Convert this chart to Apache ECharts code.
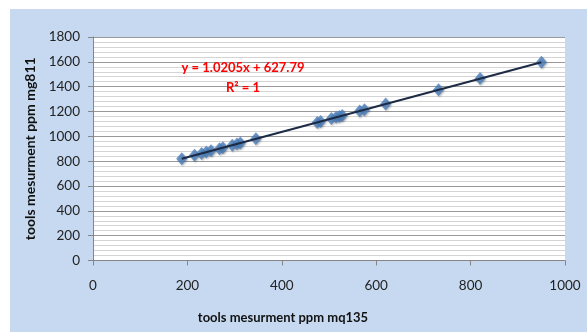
<!DOCTYPE html>
<html>
<head>
<meta charset="utf-8">
<script src="https://cdn.jsdelivr.net/npm/echarts@6/dist/echarts.min.js"></script>
<style>
  html, body { margin: 0; padding: 0; background: #ffffff; }
  #panel { position: absolute; left: 10px; top: 9px; width: 577px; height: 323px; background: #c6d9f1; }
  #chart { position: absolute; left: 0; top: 0; width: 587px; height: 332px; }
</style>
</head>
<body>
<div id="panel"></div>
<div id="chart"></div>
<script>
// MQ135 readings (ppm) against MG811 readings (ppm)
const mq135 = [188, 215, 230, 240, 250, 268, 275, 295, 305, 312, 345, 475, 482, 505, 515, 522, 528, 565, 575, 620, 732, 820, 950];
const mg811 = [820, 847, 862, 873, 883, 901, 908, 929, 939, 946, 980, 1112, 1120, 1143, 1153, 1160, 1167, 1204, 1215, 1261, 1375, 1465, 1597];

// Linear fit reported on the chart
const slope = 1.0205;
const intercept = 627.79;
const rSquared = 1;

const xTicks = { min: 0, max: 1000, interval: 200 };
const yTicks = { min: 0, max: 1800, interval: 200 };

const points = mq135.map((x, i) => [x, mg811[i]]);
const xLo = Math.min(...mq135), xHi = Math.max(...mq135);
const trend = [[xLo, slope * xLo + intercept], [xHi, slope * xHi + intercept]];

const chart = echarts.init(document.getElementById('chart'), null, { renderer: 'canvas' });
const font = 'Lato, "Open Sans", sans-serif';
const plain = v => String(v);

chart.setOption({
  animation: false,
  grid: { left: 93, right: 22, top: 37, bottom: 71.5, show: true, backgroundColor: '#ffffff', borderWidth: 0 },
  xAxis: {
    type: 'value', min: xTicks.min, max: xTicks.max, interval: xTicks.interval,
    name: 'tools mesurment ppm mq135', nameLocation: 'middle', nameGap: 51,
    nameTextStyle: { fontFamily: font, fontWeight: 'bold', fontSize: 13, color: '#111', padding: [0, 92, 0, 0] },
    axisLine: { show: true, onZero: false, lineStyle: { color: '#868686', width: 1 } },
    axisTick: { show: true, inside: false, length: 5, lineStyle: { color: '#868686' } },
    axisLabel: { fontFamily: font, fontSize: 13.5, color: '#222', margin: 18, formatter: plain },
    splitLine: { show: false }
  },
  yAxis: {
    type: 'value', min: yTicks.min, max: yTicks.max, interval: yTicks.interval,
    name: 'tools mesurment ppm mg811', nameLocation: 'middle', nameGap: 48, nameRotate: 90,
    nameTextStyle: { fontFamily: font, fontWeight: 'bold', fontSize: 14, color: '#111' },
    axisLine: { show: true, lineStyle: { color: '#868686', width: 1 } },
    axisTick: { show: true, inside: false, length: 5, lineStyle: { color: '#868686' } },
    axisLabel: { fontFamily: font, fontSize: 13.5, color: '#222', margin: 13, formatter: plain },
    splitLine: { show: true, lineStyle: { color: '#9a9a9a', width: 1 } },
    minorTick: { show: false, splitNumber: 5 },
    minorSplitLine: { show: true, lineStyle: { color: '#d4d4d4', width: 1 } }
  },
  series: [
    {
      type: 'scatter', data: points, symbol: 'diamond', symbolSize: [11, 13],
      itemStyle: { color: '#4a7ebb', shadowBlur: 2, shadowColor: 'rgba(0,0,0,0.35)', shadowOffsetX: 1, shadowOffsetY: 1 },
      z: 2
    },
    {
      type: 'line', data: trend, symbol: 'none',
      lineStyle: { color: '#1c2a44', width: 2 },
      z: 3
    }
  ],
  graphic: [
    {
      type: 'text', z: 10, position: [243, 68],
      style: {
        text: 'y = ' + slope + 'x + ' + intercept,
        font: 'bold 13px ' + font, fill: '#ff0000', textAlign: 'center', textVerticalAlign: 'middle'
      }
    },
    {
      type: 'text', z: 10, position: [243, 88],
      style: {
        text: 'R² = ' + rSquared,
        font: 'bold 13px ' + font, fill: '#ff0000', textAlign: 'center', textVerticalAlign: 'middle'
      }
    }
  ]
});
</script>
</body>
</html>
